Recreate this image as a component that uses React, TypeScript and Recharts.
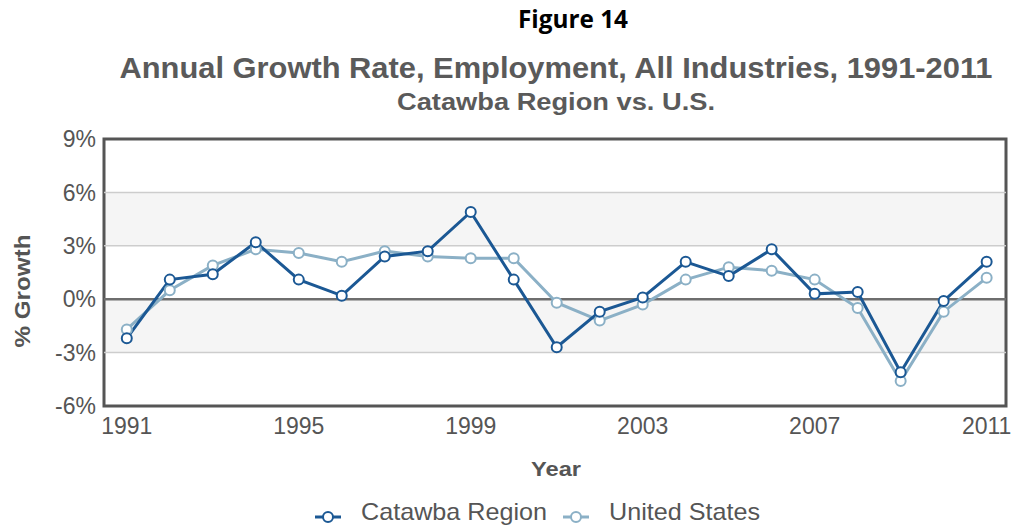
import React from 'react';
import { LineChart, Line, XAxis, YAxis, ReferenceArea, ReferenceLine } from 'recharts';

const years = [1991, 1992, 1993, 1994, 1995, 1996, 1997, 1998, 1999, 2000, 2001, 2002, 2003, 2004, 2005, 2006, 2007, 2008, 2009, 2010, 2011];
const catawba = [-2.2, 1.1, 1.4, 3.2, 1.1, 0.2, 2.4, 2.7, 4.9, 1.1, -2.7, -0.7, 0.1, 2.1, 1.3, 2.8, 0.3, 0.4, -4.1, -0.1, 2.1];
const unitedStates = [-1.7, 0.5, 1.9, 2.8, 2.6, 2.1, 2.7, 2.4, 2.3, 2.3, -0.2, -1.2, -0.3, 1.1, 1.8, 1.6, 1.1, -0.5, -4.6, -0.7, 1.2];
const xTicks = [1991, 1995, 1999, 2003, 2007, 2011];
const xDomain = [1990.47, 2011.45];
const yTicks = [-6, -3, 0, 3, 6, 9];
const gridValues = [-3, 3, 6];
const bands = [[3, 6], [-3, 0]];

const CATAWBA = '#1b5894';
const US = '#8bb0c6';
const TEXT = '#555555';
const FONT = '"Liberation Sans", Arial, sans-serif';

const data = years.map((y, i) => ({ year: y, catawba: catawba[i], us: unitedStates[i] }));

export default function App() {
  const tickStyle = { fontSize: 23, fill: TEXT, fontFamily: FONT };
  return (
    <div style={{ position: 'absolute', left: 0, top: 0, width: 1011, height: 527, background: '#fff' }}>
      <LineChart width={1011} height={527} data={data} margin={{ top: 139, right: 5, bottom: 81, left: 0 }}>
        {bands.map(([a, b]) => (
          <ReferenceArea key={`b${a}`} y1={a} y2={b} fill="#f5f5f5" fillOpacity={1} stroke="none" />
        ))}
        {gridValues.map((v) => (
          <ReferenceLine key={`g${v}`} y={v} stroke="#cdcdcd" strokeWidth={1.5} />
        ))}
        <ReferenceLine y={0} stroke="#6e6e6e" strokeWidth={2.5} />
        <ReferenceArea y1={-6} y2={9} fill="none" fillOpacity={0} stroke="#555" strokeWidth={3} />
        <XAxis
          dataKey="year"
          type="number"
          domain={xDomain}
          allowDataOverflow
          ticks={xTicks}
          height={40}
          tickLine={false}
          tickSize={0}
          tickMargin={12}
          axisLine={false}
          tick={tickStyle}
          interval={0}
        />
        <YAxis
          domain={[-6, 9]}
          ticks={yTicks}
          width={104}
          tickLine={false}
          tickSize={0}
          tickMargin={8}
          axisLine={false}
          tick={tickStyle}
          tickFormatter={(v) => `${v}%`}
          interval={0}
        />
        <Line
          dataKey="us"
          name="United States"
          stroke={US}
          strokeWidth={3}
          dot={{ r: 5, fill: '#fff', stroke: US, strokeWidth: 2 }}
          isAnimationActive={false}
        />
        <Line
          dataKey="catawba"
          name="Catawba Region"
          stroke={CATAWBA}
          strokeWidth={3}
          dot={{ r: 5, fill: '#fff', stroke: CATAWBA, strokeWidth: 2 }}
          isAnimationActive={false}
        />
      </LineChart>
      <svg width={1011} height={527} style={{ position: 'absolute', left: 0, top: 0, pointerEvents: 'none' }}>
        <text x={573} y={28} textAnchor="middle" fontFamily='"Open Sans", sans-serif' fontWeight={700} fontSize={25} fill="#000" textLength={110} lengthAdjust="spacingAndGlyphs">Figure 14</text>
        <text x={556} y={78} textAnchor="middle" fontFamily={FONT} fontWeight={700} fontSize={30} fill="#5a5a5a" textLength={873} lengthAdjust="spacingAndGlyphs">Annual Growth Rate, Employment, All Industries, 1991-2011</text>
        <text x={556} y={110} textAnchor="middle" fontFamily={FONT} fontWeight={700} fontSize={23} fill="#5a5a5a" textLength={318} lengthAdjust="spacingAndGlyphs">Catawba Region vs. U.S.</text>
        <text x={556} y={476} textAnchor="middle" fontFamily={FONT} fontWeight={700} fontSize={21} fill={TEXT} textLength={50} lengthAdjust="spacingAndGlyphs">Year</text>
        <text x={30} y={291} textAnchor="middle" transform="rotate(-90 30 291)" fontFamily={FONT} fontWeight={700} fontSize={22} fill={TEXT} textLength={113} lengthAdjust="spacingAndGlyphs">% Growth</text>
        <line x1={315} y1={517} x2={341} y2={517} stroke={CATAWBA} strokeWidth={3} />
        <circle cx={328} cy={517} r={5} fill="#fff" stroke={CATAWBA} strokeWidth={2} />
        <text x={361} y={520} fontFamily={FONT} fontSize={24} fill={TEXT} textLength={186} lengthAdjust="spacingAndGlyphs">Catawba Region</text>
        <line x1={563} y1={517} x2={589} y2={517} stroke={US} strokeWidth={3} />
        <circle cx={576} cy={517} r={5} fill="#fff" stroke={US} strokeWidth={2} />
        <text x={609} y={520} fontFamily={FONT} fontSize={24} fill={TEXT} textLength={151} lengthAdjust="spacingAndGlyphs">United States</text>
      </svg>
    </div>
  );
}
